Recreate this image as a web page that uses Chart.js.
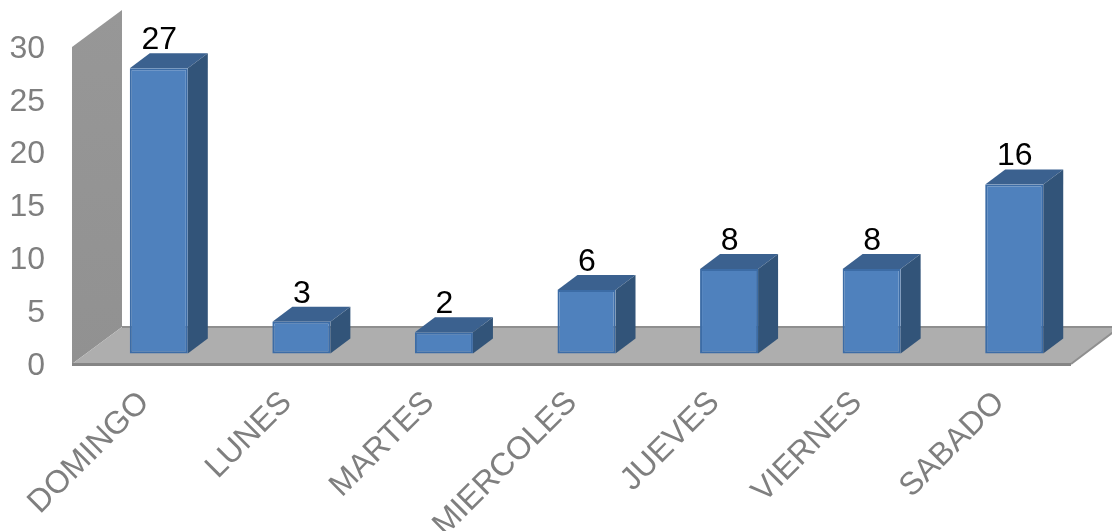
<!DOCTYPE html>
<html>
<head>
<meta charset="utf-8">
<title>Dias</title>
<script src="https://cdn.jsdelivr.net/npm/chart.js@4"></script>
<style>
  html, body { margin: 0; padding: 0; background: #fff; overflow: hidden; }
  canvas { display: block; }
</style>
</head>
<body>
<canvas id="diasChart" width="1112" height="531"></canvas>
<script>
const categories = ['DOMINGO', 'LUNES', 'MARTES', 'MIERCOLES', 'JUEVES', 'VIERNES', 'SABADO'];
const values = [27, 3, 2, 6, 8, 8, 16];
const yTicks = [0, 5, 10, 15, 20, 25, 30];

// oblique depth of the box, and where the bars sit inside it
const depthX = 49, depthY = 37;
const barShiftX = 14.5, barShiftY = 12.5;
const barDepthX = 20, barDepthY = 15;
// y tick labels sit a little below the front edge of the box
const boxLift = 2;

const face = (ctx, pts, fill) => {
    ctx.beginPath();
    pts.forEach((p, i) => i ? ctx.lineTo(p[0], p[1]) : ctx.moveTo(p[0], p[1]));
    ctx.closePath();
    ctx.fillStyle = fill;
    ctx.fill();
};

const box3d = {
    id: 'box3d',
    beforeDatasetsDraw(chart) {
        const { ctx, chartArea: a } = chart;
        const top = a.top - boxLift, bottom = a.bottom - boxLift, left = a.left - 1;
        ctx.save();
        // left wall
        const wall = ctx.createLinearGradient(0, top - depthY, 0, bottom);
        wall.addColorStop(0, '#979797');
        wall.addColorStop(1, '#919191');
        face(ctx, [[left, top], [left + depthX + 1, top - depthY], [left + depthX + 1, bottom - depthY], [left, bottom]], wall);
        // floor
        face(ctx, [[left, bottom], [left + depthX + 1, bottom - depthY], [a.right + depthX, bottom - depthY], [a.right, bottom]], '#aeaeae');
        ctx.strokeStyle = '#8f8f8f';
        ctx.lineWidth = 2;
        ctx.beginPath();
        ctx.moveTo(left + depthX + 1, bottom - depthY);
        ctx.lineTo(a.right + depthX, bottom - depthY);
        ctx.moveTo(a.right, bottom);
        ctx.lineTo(a.right + depthX, bottom - depthY);
        ctx.stroke();
        ctx.lineWidth = 3;
        ctx.strokeStyle = '#858585';
        ctx.beginPath();
        ctx.moveTo(left, bottom + 0.5);
        ctx.lineTo(a.right, bottom + 0.5);
        ctx.stroke();
        ctx.restore();

        // top and side faces of each bar, front faces come from Chart.js
        ctx.save();
        ctx.translate(barShiftX, -barShiftY);
        chart.getDatasetMeta(0).data.forEach(bar => {
            const l = bar.x - bar.width / 2, r = bar.x + bar.width / 2;
            face(ctx, [[l, bar.y], [l + barDepthX, bar.y - barDepthY], [r + barDepthX, bar.y - barDepthY], [r, bar.y]], '#3b618f');
            face(ctx, [[r, bar.y], [r + barDepthX, bar.y - barDepthY], [r + barDepthX, bar.base - barDepthY], [r, bar.base]], '#325479');
        });
        ctx.restore();

        ctx.save();
        ctx.translate(barShiftX, -barShiftY);
    },
    afterDatasetsDraw(chart) {
        const { ctx } = chart;
        ctx.restore();
        // value labels
        ctx.save();
        ctx.font = '32px "Liberation Sans", Arial, sans-serif';
        ctx.fillStyle = '#000';
        ctx.textAlign = 'center';
        ctx.textBaseline = 'alphabetic';
        chart.getDatasetMeta(0).data.forEach((bar, i) => {
            ctx.fillText(values[i], bar.x + barShiftX + 0.5, bar.y - barShiftY - 19);
        });
        ctx.restore();
    }
};

new Chart(document.getElementById('diasChart'), {
    type: 'bar',
    data: {
        labels: categories,
        datasets: [{
            data: values,
            backgroundColor: '#4f81bd',
            borderColor: '#3c6ca6',
            borderWidth: 2,
            borderSkipped: false,
            clip: false,
            barPercentage: 0.407,
            categoryPercentage: 1
        }]
    },
    options: {
        responsive: false,
        animation: false,
        devicePixelRatio: 1,
        layout: { padding: { top: 49, right: 41, left: 0, bottom: 0 } },
        plugins: {
            legend: { display: false },
            tooltip: { enabled: false }
        },
        scales: {
            x: {
                grid: { display: false, drawTicks: false },
                border: { display: false },
                afterFit: scale => { scale.height = 165; },
                ticks: {
                    color: '#7f7f7f',
                    font: { family: '"Liberation Sans", Arial, sans-serif', size: 32 },
                    maxRotation: 45,
                    minRotation: 45,
                    autoSkip: false,
                    padding: 18
                }
            },
            y: {
                min: 0,
                max: 30,
                grid: { display: false, drawTicks: false },
                border: { display: false },
                afterFit: scale => { scale.width = 73; },
                afterBuildTicks: scale => { scale.ticks = yTicks.map(v => ({ value: v })); },
                ticks: {
                    color: '#7f7f7f',
                    font: { family: '"Liberation Sans", Arial, sans-serif', size: 32 },
                    padding: 28
                }
            }
        }
    },
    plugins: [box3d]
});
</script>
</body>
</html>
